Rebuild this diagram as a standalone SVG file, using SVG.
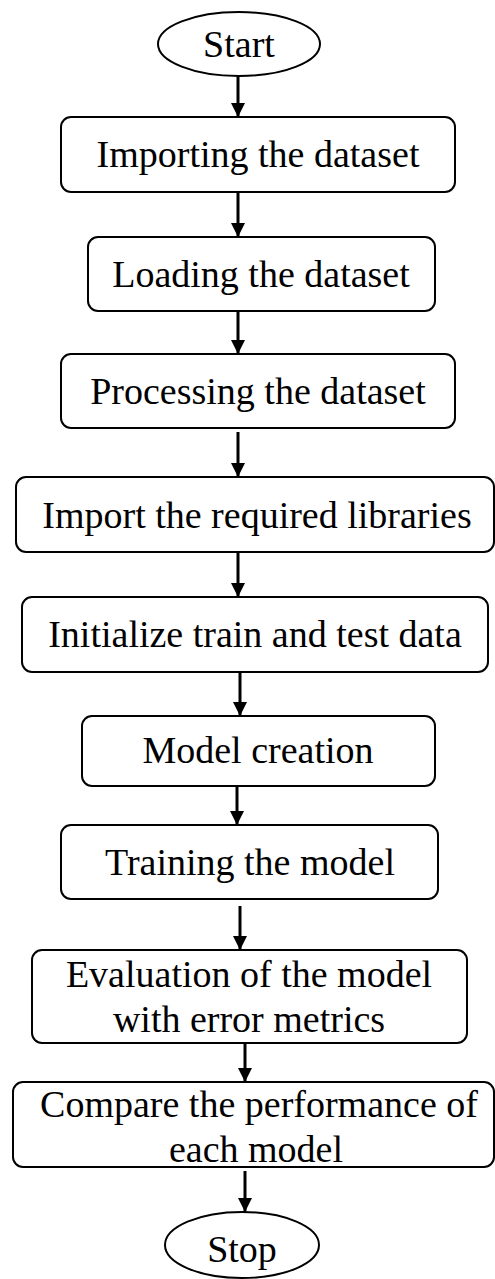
<svg xmlns="http://www.w3.org/2000/svg" width="495" height="1279" viewBox="0 0 495 1279">
<style>
.n{fill:#fff;stroke:#000;stroke-width:2}
.t{font-family:"Liberation Serif","Times New Roman",serif;font-size:38px;fill:#000;text-anchor:middle}
.c{stroke:#000;stroke-width:3;fill:none}
</style>
<defs>
<marker id="ah" markerUnits="userSpaceOnUse" markerWidth="14" markerHeight="15" refX="14" refY="7" orient="auto">
<path d="M0,0 L14,7 L0,14 Z" fill="#000"/>
</marker>
</defs>
<rect width="495" height="1279" fill="#fff"/>
<g id="connectors">
<line class="c" x1="238" y1="76" x2="238" y2="117" marker-end="url(#ah)"/>
<line class="c" x1="238" y1="192" x2="238" y2="237" marker-end="url(#ah)"/>
<line class="c" x1="238" y1="311" x2="238" y2="354" marker-end="url(#ah)"/>
<line class="c" x1="238" y1="432" x2="238" y2="477" marker-end="url(#ah)"/>
<line class="c" x1="238" y1="552" x2="238" y2="597" marker-end="url(#ah)"/>
<line class="c" x1="240" y1="672" x2="240" y2="716" marker-end="url(#ah)"/>
<line class="c" x1="237" y1="786" x2="237" y2="825" marker-end="url(#ah)"/>
<line class="c" x1="240" y1="906" x2="240" y2="950" marker-end="url(#ah)"/>
<line class="c" x1="245" y1="1043" x2="245" y2="1082" marker-end="url(#ah)"/>
<line class="c" x1="245" y1="1171" x2="245" y2="1212" marker-end="url(#ah)"/>
</g>
<g id="start">
<ellipse class="n" cx="239" cy="44" rx="81" ry="32"/>
<text class="t" x="239" y="57">Start</text>
</g>
<g id="importing">
<rect class="n" x="61" y="117" width="394" height="75" rx="10"/>
<text class="t" x="258" y="167">Importing the dataset</text>
</g>
<g id="loading">
<rect class="n" x="88" y="237" width="347" height="74" rx="10"/>
<text class="t" x="261" y="287">Loading the dataset</text>
</g>
<g id="processing">
<rect class="n" x="61" y="354" width="394" height="74" rx="10"/>
<text class="t" x="258" y="404">Processing the dataset</text>
</g>
<g id="libraries">
<rect class="n" x="16" y="477" width="478" height="75" rx="10"/>
<text class="t" x="257" y="528">Import the required libraries</text>
</g>
<g id="initialize">
<rect class="n" x="22" y="597" width="466" height="75" rx="10"/>
<text class="t" x="255" y="647">Initialize train and test data</text>
</g>
<g id="model">
<rect class="n" x="82" y="716" width="353" height="70" rx="10"/>
<text class="t" x="258" y="763">Model creation</text>
</g>
<g id="training">
<rect class="n" x="61" y="825" width="377" height="74" rx="10"/>
<text class="t" x="250" y="875">Training the model</text>
</g>
<g id="evaluation">
<rect class="n" x="32" y="950" width="435" height="93" rx="10"/>
<text class="t" x="249" y="987">Evaluation of the model</text>
<text class="t" x="249" y="1032">with error metrics</text>
</g>
<g id="compare">
<rect class="n" x="13" y="1082" width="481" height="85" rx="10"/>
<text class="t" x="259" y="1117">Compare the performance of</text>
<text class="t" x="256" y="1162">each model</text>
</g>
<g id="stop">
<ellipse class="n" cx="242" cy="1245" rx="77" ry="33"/>
<text class="t" x="242" y="1262">Stop</text>
</g>
</svg>
